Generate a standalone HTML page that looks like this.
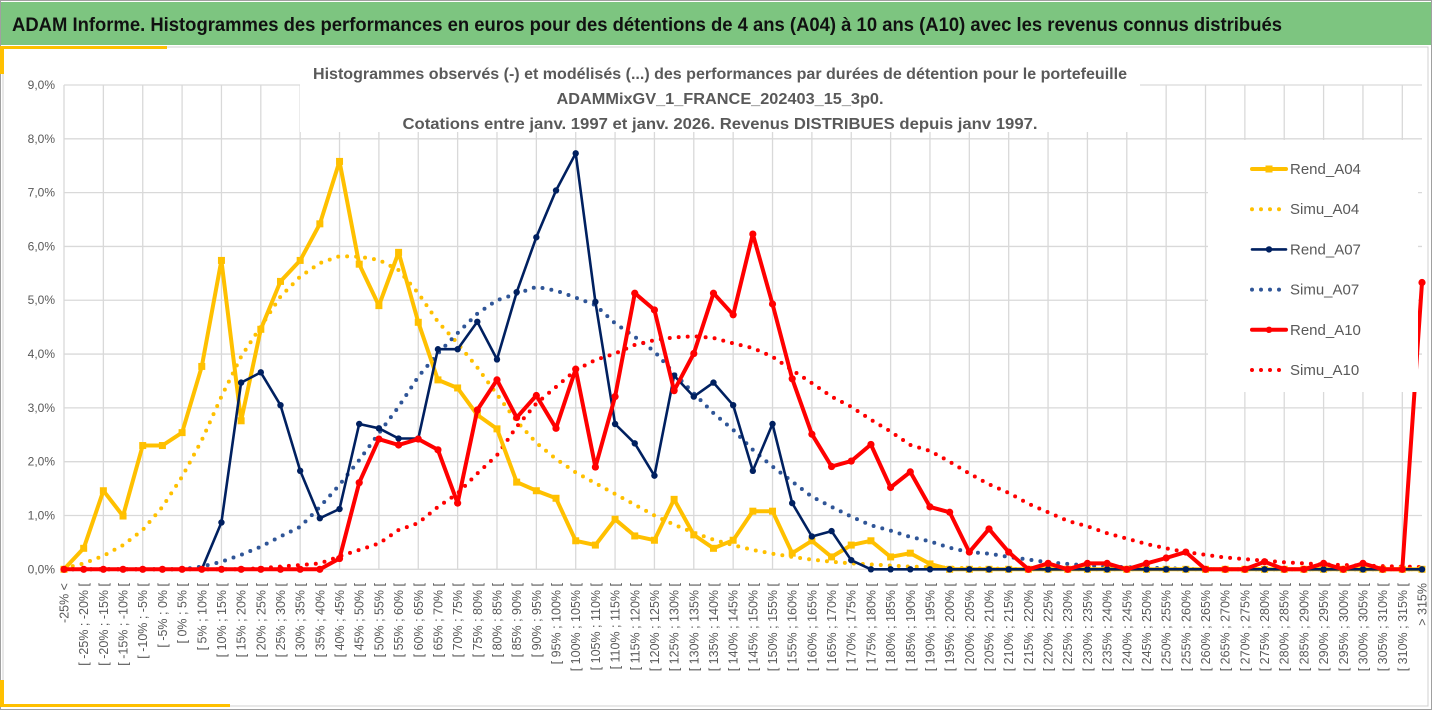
<!DOCTYPE html>
<html><head><meta charset="utf-8"><style>
body{margin:0;width:1432px;height:710px;overflow:hidden;background:#fff;font-family:"Liberation Sans",sans-serif;}
svg{display:block}
</style></head><body>
<svg id="chart" width="1432" height="710" xmlns="http://www.w3.org/2000/svg">
<rect x="0.5" y="0.5" width="1431" height="709" fill="#fff" stroke="#a0a0a0"/>
<rect x="1" y="2" width="1430" height="43" fill="#7DC580"/>
<text x="12" y="31" font-size="19" font-weight="bold" fill="#111" textLength="1270" lengthAdjust="spacingAndGlyphs">ADAM Informe. Histogrammes des performances en euros pour des détentions de 4 ans (A04) à 10 ans (A10) avec les revenus connus distribués</text>
<rect x="3" y="47" width="1425" height="659" fill="none" stroke="#d0d0d0"/>
<rect x="0" y="46" width="167" height="3" fill="#FFC000"/>
<rect x="0" y="46" width="4" height="28" fill="#FFC000"/>
<rect x="0" y="704" width="230" height="3" fill="#FFC000"/>
<rect x="0" y="680" width="4" height="27" fill="#FFC000"/>
<g id="grid"></g>
<g id="yaxis"></g>
<g id="xaxis"></g>
<g font-size="15.5" font-weight="bold" fill="#595959" text-anchor="middle">
<rect x="300" y="58" width="840" height="74" fill="#fff"/>
<text x="720" y="79" textLength="814" lengthAdjust="spacingAndGlyphs">Histogrammes observés (-) et modélisés (...) des performances par durées de détention pour le portefeuille</text>
<text x="720" y="104" textLength="327" lengthAdjust="spacingAndGlyphs">ADAMMixGV_1_FRANCE_202403_15_3p0.</text>
<text x="720" y="129" textLength="635" lengthAdjust="spacingAndGlyphs">Cotations entre janv. 1997 et janv. 2026. Revenus DISTRIBUES depuis janv 1997.</text>
</g>
<g id="series"></g>
<g id="legend"></g>
</svg>
<script>
const categories=["-25% <"];
for(let k=-25;k<315;k+=5){categories.push("[ "+k+"% ; "+(k+5)+"% [");}
categories.push("> 315%");
const yTicks=[0,1,2,3,4,5,6,7,8,9];
const rendA04=[0,0.39,1.46,0.99,2.30,2.30,2.54,3.77,5.74,2.76,4.46,5.35,5.74,6.42,7.58,5.67,4.90,5.89,4.59,3.52,3.37,2.87,2.61,1.62,1.46,1.32,0.53,0.45,0.93,0.62,0.54,1.30,0.64,0.39,0.54,1.08,1.08,0.30,0.53,0.23,0.45,0.53,0.23,0.30,0.10,0,0,0,0,0,0,0,0,0,0,0,0,0,0,0,0,0,0,0,0,0,0,0,0,0];
const simuA04=[0.02,0.11,0.25,0.45,0.73,1.16,1.72,2.40,3.21,3.95,4.51,5.07,5.44,5.69,5.82,5.81,5.75,5.56,5.13,4.60,4.20,3.75,3.25,2.75,2.35,2.05,1.80,1.60,1.40,1.20,1.00,0.83,0.68,0.55,0.45,0.36,0.29,0.23,0.18,0.14,0.11,0.09,0.07,0.05,0.04,0.03,0.02,0.015,0.01,0,0,0,0,0,0,0,0,0,0,0,0,0,0,0,0,0,0,0,0,0];
const rendA07=[0,0,0,0,0,0,0,0,0.87,3.47,3.66,3.05,1.83,0.95,1.12,2.70,2.62,2.43,2.43,4.09,4.09,4.60,3.90,5.15,6.17,7.04,7.73,4.97,2.70,2.34,1.74,3.60,3.21,3.47,3.05,1.83,2.70,1.23,0.61,0.71,0.17,0,0,0,0,0,0,0,0,0,0,0,0,0,0,0,0,0,0,0,0,0,0,0,0,0,0,0,0,0];
const simuA07=[0,0,0,0,0,0,0,0.05,0.14,0.27,0.42,0.61,0.79,1.16,1.57,2.03,2.53,3.02,3.58,4.01,4.39,4.75,5.0,5.12,5.25,5.18,5.05,4.91,4.57,4.32,4.05,3.64,3.27,2.90,2.59,2.22,1.91,1.63,1.35,1.16,0.98,0.82,0.72,0.60,0.52,0.40,0.32,0.29,0.23,0.18,0.13,0.10,0.07,0.05,0.04,0.03,0.02,0.01,0,0,0,0,0,0,0,0,0,0,0,0];
const rendA10=[0,0,0,0,0,0,0,0,0,0,0,0,0,0,0.20,1.61,2.42,2.31,2.42,2.22,1.23,2.96,3.52,2.82,3.23,2.62,3.72,1.90,3.21,5.13,4.82,3.32,4.01,5.13,4.73,6.23,4.93,3.54,2.51,1.91,2.01,2.32,1.52,1.81,1.16,1.06,0.32,0.75,0.32,0,0.11,0,0.11,0.11,0,0.11,0.21,0.32,0,0,0,0.14,0,0,0.11,0,0.11,0,0,5.33];
const simuA10=[0,0,0,0,0,0,0,0,0,0,0.02,0.05,0.08,0.11,0.24,0.36,0.48,0.73,0.86,1.16,1.41,1.78,2.12,2.65,3.08,3.39,3.70,3.89,4.01,4.17,4.26,4.31,4.33,4.30,4.20,4.11,3.95,3.70,3.46,3.21,3.02,2.78,2.56,2.31,2.20,2.00,1.78,1.58,1.42,1.22,1.06,0.90,0.80,0.67,0.57,0.47,0.39,0.32,0.27,0.22,0.19,0.16,0.13,0.11,0.09,0.08,0.07,0.06,0.05,0.04];

const NS="http://www.w3.org/2000/svg";
const X0=64,X1=1422,Y0=569.3,Y9=85;
function xPos(i){return X0+(X1-X0)*i/(categories.length-1);}
function yPos(v){return Y0-(Y0-Y9)*v/9;}
function mk(tag,attrs,parent){const e=document.createElementNS(NS,tag);for(const k in attrs)e.setAttribute(k,attrs[k]);parent.appendChild(e);return e;}

const grid=document.getElementById('grid');
for(const t of yTicks){
 const l=mk('line',{x1:X0,x2:X1,y1:yPos(t),y2:yPos(t),stroke:'#d9d9d9','stroke-width':1.3},grid);
 
 
}
for(let i=0;i<categories.length;i+=2){
 const l=mk('line',{x1:xPos(i),x2:xPos(i),y1:Y9,y2:Y0,stroke:'#d9d9d9','stroke-width':1.3},grid);
 
 
}
const ya=document.getElementById('yaxis');
for(const t of yTicks){
 const tx=mk('text',{x:55,y:yPos(t)+4,'font-size':12,fill:'#595959','text-anchor':'end'},ya);
 tx.textContent=t.toFixed(1).replace('.',',')+'%';
 
 
}
const xa=document.getElementById('xaxis');
categories.forEach((c,i)=>{
 const x=xPos(i)+4.5;
 const tx=mk('text',{x:x,y:583,'font-size':12.5,fill:'#595959','text-anchor':'end',transform:'rotate(-90 '+x+' 583)'},xa);
 tx.textContent=c;
 
 
});

const series=document.getElementById('series');
function drawLine(vals,color,w,dotted,marker,name){
 const pts=vals.map((v,i)=>xPos(i).toFixed(1)+','+yPos(v).toFixed(1)).join(' ');
 const attrs={points:pts,fill:'none',stroke:color,'stroke-width':w,'stroke-linejoin':'round','stroke-linecap':'round'};
 if(dotted){attrs['stroke-dasharray']='0 9';}
 const pl=mk('polyline',attrs,series);
 
 
 if(marker){
  vals.forEach((v,i)=>{
   let m;
   if(marker==='square'){m=mk('rect',{x:xPos(i)-3.5,y:yPos(v)-3.5,width:7,height:7,fill:color},series);}
   else{m=mk('circle',{cx:xPos(i),cy:yPos(v),r:marker,fill:color},series);}
   
   
  });
 }
}
drawLine(simuA04,'#FFC000',4,true,null,'simu-a04');
drawLine(simuA07,'#2F5597',4,true,null,'simu-a07');
drawLine(simuA10,'#FF0000',4,true,null,'simu-a10');
drawLine(rendA04,'#FFC000',4,false,'square','rend-a04');
drawLine(rendA07,'#002060',2.6,false,3.2,'rend-a07');
drawLine(rendA10,'#FF0000',4,false,3.6,'rend-a10');

const lg=document.getElementById('legend');
const lbox=mk('rect',{x:1208,y:140,width:210,height:252,fill:'#fff'},lg);


const legNames=['Rend_A04','Simu_A04','Rend_A07','Simu_A07','Rend_A10','Simu_A10'];
const legColors=['#FFC000','#FFC000','#002060','#2F5597','#FF0000','#FF0000'];
legNames.forEach((n,k)=>{
 const y=169+k*40.2;
 const dotted=k%2===1;
 const attrs={x1:1252,x2:dotted?1280:1286,y1:y,y2:y,stroke:legColors[k],'stroke-width':dotted?4:(k===2?2.6:4),'stroke-linecap':'round'};
 if(dotted)attrs['stroke-dasharray']='0 9';
 const l=mk('line',attrs,lg);
 
 
 if(!dotted){
  const m=k===0?mk('rect',{x:1265.5,y:y-3.5,width:7,height:7,fill:legColors[k]},lg):mk('circle',{cx:1269,cy:y,r:3.2,fill:legColors[k]},lg);
  
  
 }
 const t=mk('text',{x:1290,y:y+5,'font-size':15,fill:'#595959'},lg);
 t.textContent=n;
 
 
});
</script>
</body></html>
